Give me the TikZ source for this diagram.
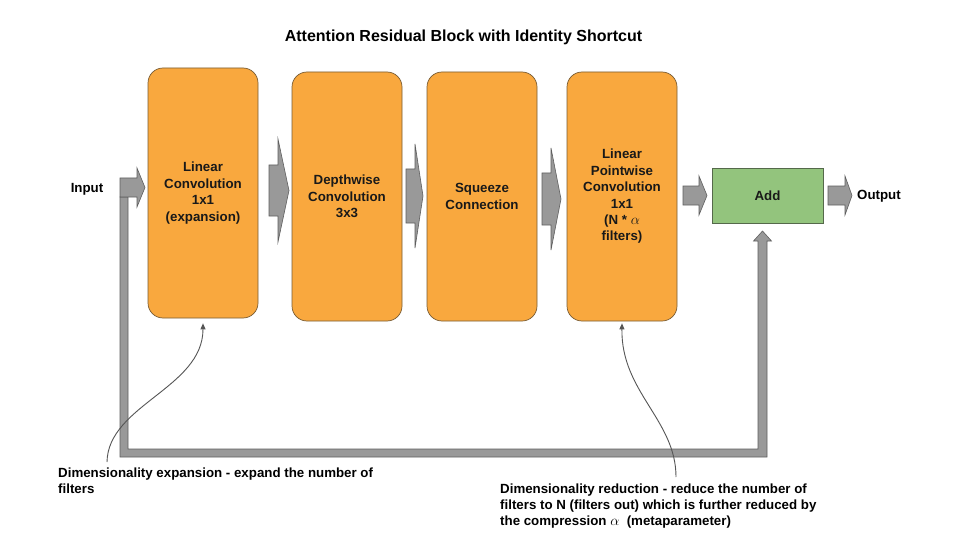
\documentclass[tikz,border=0pt]{standalone}
\usepackage{fontspec}
\setmainfont{Liberation Sans}
\usetikzlibrary{arrows.meta}
\definecolor{boxorange}{RGB}{249,168,62}
\definecolor{boxedge}{RGB}{120,92,52}
\definecolor{addgreen}{RGB}{147,196,125}
\definecolor{addedge}{RGB}{85,105,75}
\definecolor{arrgray}{RGB}{153,153,153}
\definecolor{arredge}{RGB}{95,95,95}
\definecolor{curvegray}{RGB}{85,85,85}
% block arrow: x1, x head start, x tip, y centre, shaft half, head half
\newcommand\blockarrow[6]{%
  \draw[blockarr] ({#1},{#4-#5}) -- ({#2},{#4-#5}) -- ({#2},{#4-#6}) -- ({#3},{#4})
    -- ({#2},{#4+#6}) -- ({#2},{#4+#5}) -- ({#1},{#4+#5}) -- cycle;}
\begin{document}
\begin{tikzpicture}[x=1pt,y=-1pt,
  stage/.style={draw=boxedge, line width=0.7pt, fill=boxorange, rounded corners=15pt,
    minimum width=110pt, minimum height=249pt, inner sep=0pt, align=center,
    text=black!90, font=\bfseries\fontsize{13.3}{16.4}\selectfont},
  addbox/.style={draw=addedge, line width=0.7pt, fill=addgreen, minimum width=111pt,
    minimum height=55pt, inner sep=0pt, text=black!90,
    font=\bfseries\fontsize{13.3}{16.4}\selectfont},
  lbl/.style={inner sep=0pt, text=black, font=\bfseries\fontsize{13.3}{16.4}\selectfont},
  note/.style={inner sep=0pt, align=left, text=black, font=\bfseries\fontsize{13.3}{16}\selectfont},
  blockarr/.style={fill=arrgray, draw=arredge, line width=0.6pt, line join=miter},
  pointer/.style={draw=curvegray, line width=0.9pt, -{Triangle[length=6pt,width=5pt]}}
]
\useasboundingbox (0,0) rectangle (960,540);
\fill[white] (0,0) rectangle (960,540);

% title
\node[lbl, font=\bfseries\fontsize{16}{19}\selectfont] (title) at (463.5,37) {Attention Residual Block with Identity Shortcut};

% stages
\node[stage, minimum height=250pt] (s1) at (203,193) {Linear\\Convolution\\1x1\\(expansion)};
\node[stage] (s2) at (347,196.5) {Depthwise\\Convolution\\3x3};
\node[stage] (s3) at (482,196.5) {Squeeze\\Connection};
\node[stage] (s4) at (622,196.5) {Linear\\Pointwise\\Convolution\\1x1\\(N * $\alpha$\\filters)};
\node[addbox] (add) at (767.5,195.5) {Add};

% labels
\node[lbl] (in) at (87,189) {Input};
\node[lbl, anchor=west] (out) at (857,196) {Output};

% identity shortcut
\draw[blockarr] (120,197) -- (120,457) -- (767,457) -- (767,241) -- (771.5,241) -- (762.5,231)
  -- (753.5,241) -- (758,241) -- (758,449) -- (128,449) -- (128,197) -- cycle;

% block arrows
\blockarrow{120}{137}{145}{187.5}{9.5}{19.5}
\blockarrow{269}{278}{289}{190.5}{25.5}{51.5}
\blockarrow{406}{415}{423}{196}{27}{52}
\blockarrow{542}{551}{561}{199}{26}{51}
\blockarrow{683}{699}{707}{195.5}{9.5}{19.5}
\blockarrow{828}{845}{852}{195.5}{9.5}{19.5}

% annotations
\node[note, anchor=north west] (annL) at (58,468)
  {Dimensionality expansion - expand the number of\\filters};
\node[note, anchor=north west] (annR) at (500,484)
  {Dimensionality reduction - reduce the number of\\filters to N (filters out) which is further reduced by\\the compression $\alpha$\ \ (metaparameter)};

\coordinate (lt) at (107,462);
\coordinate (rt) at (676,477);
\draw[pointer] (lt) .. controls (108,405) and (203,388) .. ([yshift=-5pt]s1.south);
\draw[pointer] (rt) .. controls (676,420) and (621,392) .. ([yshift=-2pt]s4.south);
\end{tikzpicture}
\end{document}
